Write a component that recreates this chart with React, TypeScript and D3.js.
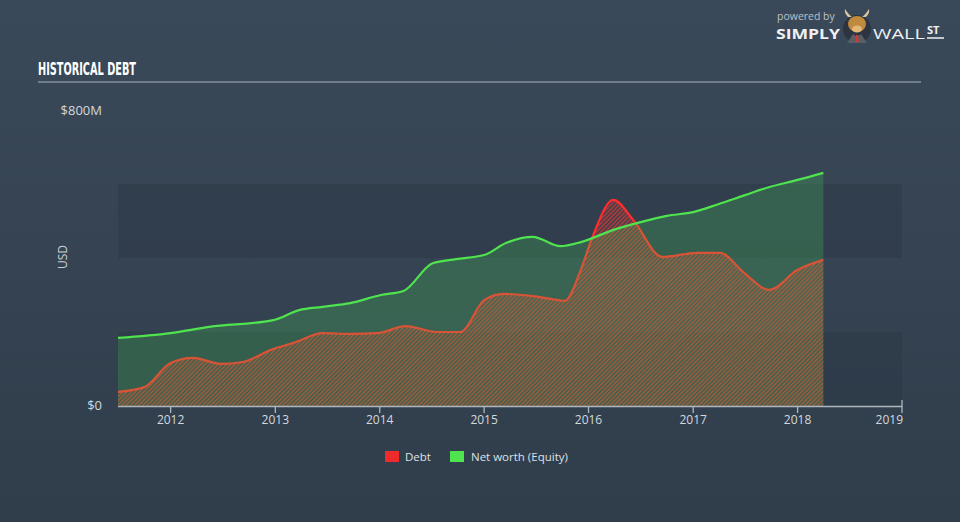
import React from "react";
import * as d3 from "d3";

// values (USD millions)
const debtDates = [
  "2011-07-01", "2011-10-01", "2012-01-01", "2012-03-20", "2012-06-25", "2012-09-10",
  "2012-12-15", "2013-03-15", "2013-06-15", "2013-09-20", "2013-12-25", "2014-04-01",
  "2014-07-20", "2014-10-10", "2015-01-01", "2015-03-10", "2015-06-20", "2015-09-20",
  "2015-10-10", "2015-12-05", "2016-01-15", "2016-03-28", "2016-06-05", "2016-09-15",
  "2017-01-15", "2017-04-05", "2017-06-25", "2017-09-25", "2018-01-01", "2018-04-01",
];
const debtValues = [
  38, 51, 116, 130, 114, 119, 151, 173, 197, 195, 197, 216, 200, 200, 286, 303, 297, 286,
  284, 368, 457, 557, 503, 403, 414, 414, 362, 314, 368, 395,
];

const equityDates = [
  "2011-07-01", "2012-01-01", "2012-05-15", "2012-12-25", "2013-03-25", "2013-06-15",
  "2013-09-20", "2014-01-05", "2014-03-25", "2014-07-05", "2014-09-25", "2015-01-01",
  "2015-03-20", "2015-06-20", "2015-09-25", "2015-12-05", "2016-03-28", "2016-07-01",
  "2016-10-01", "2017-01-01", "2017-04-01", "2017-07-01", "2017-09-25", "2018-01-01",
  "2018-04-01",
];
const equityValues = [
  184, 197, 214, 232, 259, 268, 278, 300, 311, 386, 397, 408, 441, 457, 432, 443, 476, 497,
  514, 524, 546, 570, 592, 611, 630,
];

const yearTicks = [2012, 2013, 2014, 2015, 2016, 2017, 2018, 2019];
const bandStarts = [0, 400];

const W = 960;
const H = 522;
const font = "'Open Sans', 'DejaVu Sans', sans-serif";

export default function App() {
  const parse = d3.timeParse("%Y-%m-%d");
  const debt = debtDates.map((d, i) => ({ date: parse(d)!, value: debtValues[i] }));
  const equity = equityDates.map((d, i) => ({ date: parse(d)!, value: equityValues[i] }));

  const x = d3
    .scaleTime()
    .domain([new Date(2011, 6, 1), new Date(2019, 0, 1)])
    .range([118, 902]);
  const y = d3.scaleLinear().domain([0, 800]).range([406, 110]);

  const area = d3
    .area<{ date: Date; value: number }>()
    .x((d) => x(d.date))
    .y0(y(0))
    .y1((d) => y(d.value))
    .curve(d3.curveMonotoneX);
  const line = d3
    .line<{ date: Date; value: number }>()
    .x((d) => x(d.date))
    .y((d) => y(d.value))
    .curve(d3.curveMonotoneX);

  return (
    <svg
      width={W}
      height={H}
      style={{ position: "absolute", left: 0, top: 0, display: "block" }}
    >
      <defs>
        <linearGradient id="bg" x1="0" y1="0" x2="0" y2="1">
          <stop offset="0%" stopColor="#3a4959" />
          <stop offset="100%" stopColor="#303d4b" />
        </linearGradient>
        <pattern
          id="hatch"
          width="3"
          height="3"
          patternUnits="userSpaceOnUse"
          patternTransform="rotate(45)"
        >
          <rect width="1.6" height="3" fill="#ff3a2e" opacity="0.65" />
        </pattern>
      </defs>
      <rect width={W} height={H} fill="url(#bg)" />

      {/* header */}
      <text
        x={38}
        y={75}
        fill="#ffffff"
        fontFamily="'Liberation Sans Narrow', 'DejaVu Sans Condensed', sans-serif"
        fontWeight="bold"
        fontSize={17}
        textLength={98}
        lengthAdjust="spacingAndGlyphs"
      >
        HISTORICAL DEBT
      </text>
      <line x1={38} x2={921} y1={82} y2={82} stroke="#a9b3bd" strokeWidth={1.2} />

      {/* logo */}
      <text x={777} y={20} fill="#b9c0c8" fontFamily={font} fontSize={10.5}>
        powered by
      </text>
      <text x={776} y={39} fill="#eef0f2" fontFamily={font} fontWeight="bold" fontSize={15}
        textLength={64} lengthAdjust="spacingAndGlyphs">
        SIMPLY
      </text>
      <g transform="translate(857,29)">
        <circle r={14} fill="#2b3440" />
        <path d="M-9,-12 Q-13,-16 -12,-20 Q-8,-14 -5,-12 Z" fill="#d9c7a0" />
        <path d="M9,-12 Q13,-16 12,-20 Q8,-14 5,-12 Z" fill="#d9c7a0" />
        <ellipse cx={0} cy={-5} rx={9} ry={8} fill="#c08a3e" />
        <ellipse cx={0} cy={0} rx={5} ry={3.5} fill="#e2b878" />
        <path d="M-10,14 L-4,5 L0,8 L4,5 L10,14 Z" fill="#5a5f66" />
        <path d="M-1,6 L1,6 L1.5,13 L-1.5,13 Z" fill="#d9352a" />
      </g>
      <text x={873} y={39} fill="#eef0f2" fontFamily={font} fontSize={15}
        textLength={52} lengthAdjust="spacingAndGlyphs">
        WALL
      </text>
      <text x={927} y={34} fill="#eef0f2" fontFamily={font} fontWeight="bold" fontSize={11}>
        ST
      </text>
      <line x1={927} x2={944} y1={38} y2={38} stroke="#eef0f2" strokeWidth={1.5} />

      {/* bands */}
      {bandStarts.map((b) => (
        <rect
          key={b}
          x={x.range()[0]}
          width={x.range()[1] - x.range()[0]}
          y={y(b + 200)}
          height={y(b) - y(b + 200)}
          fill="#27323f"
          opacity={0.3}
        />
      ))}

      {/* debt under equity overlay */}
      <path d={area(debt) || ""} fill="url(#hatch)" />
      <path d={line(debt) || ""} fill="none" stroke="#ff2d2d" strokeWidth={2.2} />
      <path d={area(equity) || ""} fill="rgb(75,227,90)" fillOpacity={0.21} />
      <path d={line(equity) || ""} fill="none" stroke="#4fe34f" strokeWidth={2.2} />

      {/* y axis */}
      <text x={102} y={115} textAnchor="end" fill="#d3d8dd" fontFamily={font} fontSize={13}>
        $800M
      </text>
      <text x={102} y={410} textAnchor="end" fill="#d3d8dd" fontFamily={font} fontSize={13}>
        $0
      </text>
      <text
        transform="translate(67,257) rotate(-90)"
        textAnchor="middle"
        fill="#c9cfd5"
        fontFamily={font}
        fontSize={12}
      >
        USD
      </text>

      {/* x axis */}
      <line x1={118} x2={902} y1={406.5} y2={406.5} stroke="#aeb7c0" strokeWidth={1.3} />
      {yearTicks.map((yr) => {
        const px = x(new Date(yr, 0, 1));
        return (
          <g key={yr}>
            <line
              x1={px}
              x2={px}
              y1={yr === 2019 ? 400 : 406}
              y2={413}
              stroke="#aeb7c0"
              strokeWidth={1.3}
            />
            <text
              x={px}
              y={424}
              textAnchor={yr === 2019 ? "end" : "middle"}
              dx={yr === 2019 ? 1 : 0}
              fill="#d3d8dd"
              fontFamily={font}
              fontSize={12}
            >
              {yr}
            </text>
          </g>
        );
      })}

      {/* legend */}
      <rect x={385} y={451} width={14} height={11} fill="#ee2a2a" />
      <text x={405} y={461} fill="#dde1e5" fontFamily={font} fontSize={11.5}>
        Debt
      </text>
      <rect x={450} y={451} width={14} height={11} fill="#4fe34f" />
      <text x={471} y={461} fill="#dde1e5" fontFamily={font} fontSize={11.5}>
        Net worth (Equity)
      </text>
    </svg>
  );
}
